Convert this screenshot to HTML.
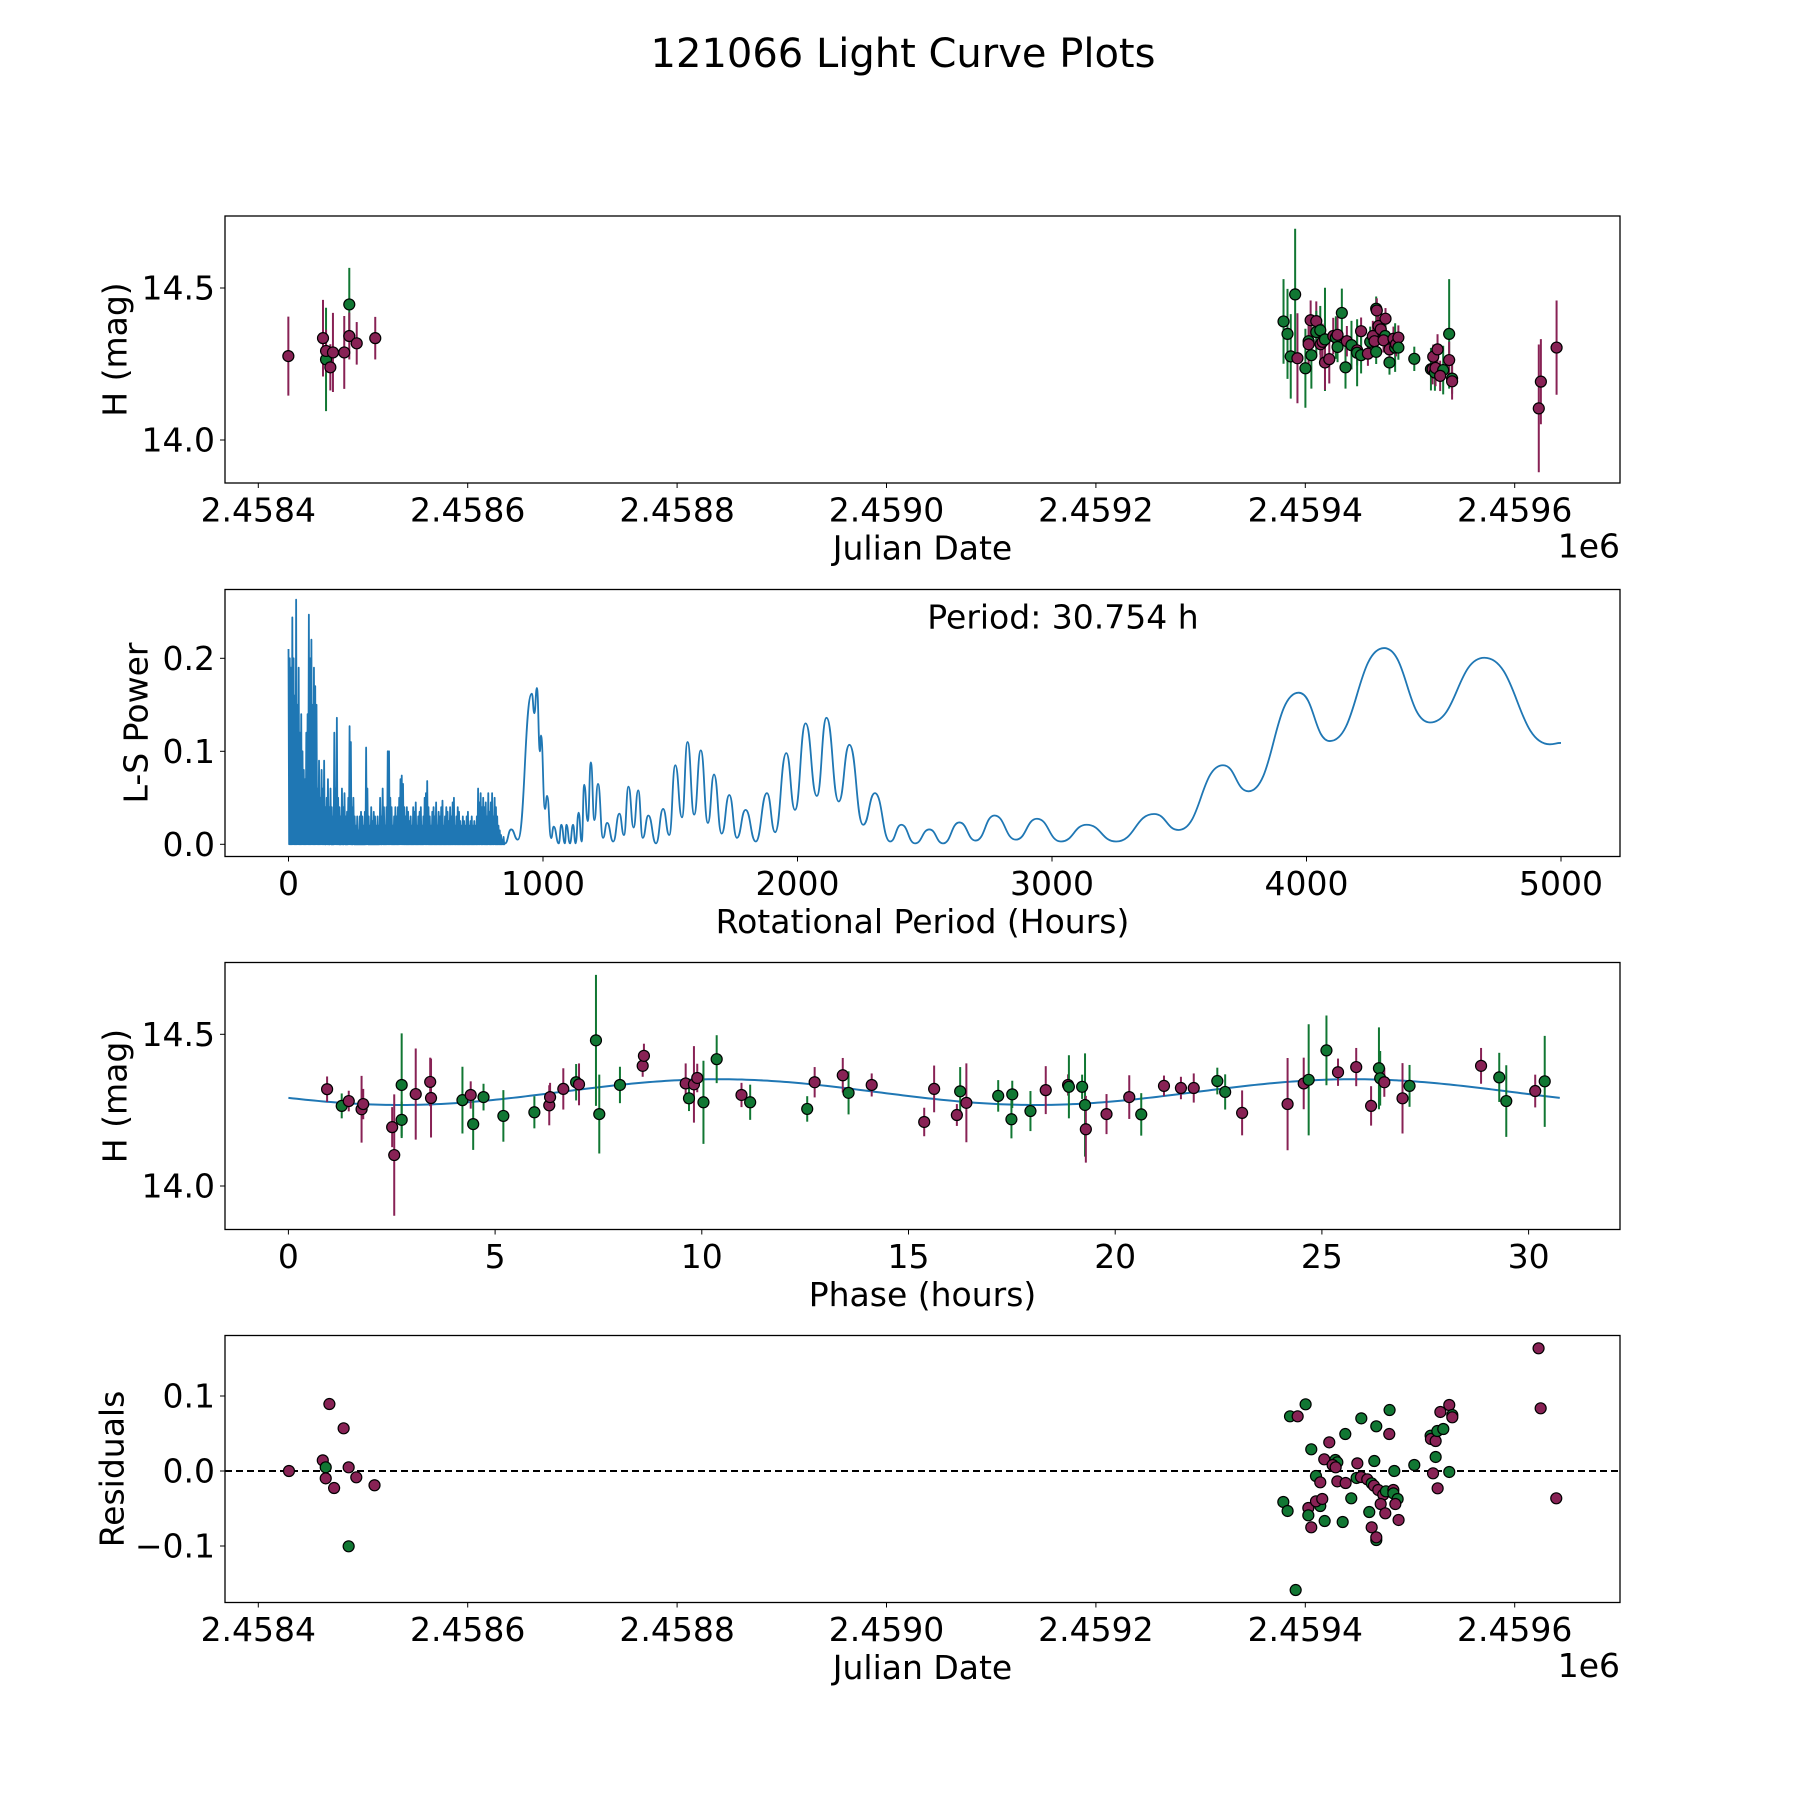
<!DOCTYPE html>
<html><head><meta charset="utf-8"><title>121066 Light Curve Plots</title>
<style>
html,body{margin:0;padding:0;background:#fff;}
svg{display:block;font-family:"DejaVu Sans","Liberation Sans",sans-serif;}
</style></head>
<body>
<svg id="fig" xmlns="http://www.w3.org/2000/svg" width="1800" height="1800" viewBox="0 0 1800 1800">
<rect width="1800" height="1800" fill="#fff"/>
<text x="903" y="54" text-anchor="middle" dominant-baseline="central" font-size="40">121066 Light Curve Plots</text>
</svg>
<script>
// ---------- Panel 1: light curve vs Julian date ----------
const lcJd = [28.7,61.8,64.7,64.7,68.8,71.3,82.1,86.9,86.9,94,111.7,
979.2,983,990.3,986.1,992.5,1000.1,1003.2,1003.2,1005.8,1005.1,1010.5,1010.5,1014.3,1014.6,1016.5,1018.8,1018.8,1022.9,1026.7,1029.2,1030.8,1030.8,1034.9,1038.4,1039.7,1044.1,1049.5,1049.5,1053.3,1053.3,1059.8,1062,1064.5,1066.1,1067.7,1067.7,1068.3,1069.9,1072.1,1076.6,1076.3,1074.7,1080.4,1080.4,1084.2,1085.8,1086.7,1088.9,1088.9,1104.1,1120,1121.6,1122.2,1123.8,1124.4,1126.3,1131.7,1128.8,1137.4,1137.4,1140.2,1140.2,1223,1225,1240];
const lcMag = [14.276,14.335,14.265,14.293,14.239,14.288,14.288,14.446,14.342,14.318,14.335,
14.39,14.349,14.479,14.275,14.269,14.236,14.325,14.315,14.279,14.394,14.391,14.355,14.361,14.315,14.323,14.331,14.255,14.266,14.342,14.337,14.346,14.306,14.418,14.239,14.325,14.312,14.295,14.287,14.358,14.279,14.284,14.323,14.342,14.325,14.29,14.432,14.426,14.375,14.364,14.399,14.342,14.328,14.255,14.298,14.333,14.304,14.315,14.337,14.304,14.267,14.233,14.233,14.274,14.222,14.237,14.298,14.23,14.211,14.349,14.263,14.202,14.193,14.104,14.192,14.304];
const lcErr = [0.13,0.126,0.17,0.07,0.076,0.13,0.12,0.12,0.077,0.07,0.07,
0.139,0.148,0.216,0.139,0.148,0.13,0.072,0.08,0.11,0.065,0.065,0.07,0.08,0.06,0.06,0.17,0.09,0.08,0.06,0.07,0.06,0.05,0.08,0.07,0.05,0.08,0.05,0.11,0.045,0.06,0.04,0.05,0.05,0.05,0.04,0.04,0.04,0.04,0.04,0.035,0.04,0.04,0.04,0.05,0.04,0.08,0.04,0.04,0.04,0.04,0.07,0.05,0.04,0.06,0.06,0.05,0.08,0.05,0.18,0.06,0.05,0.06,0.21,0.14,0.155];
const lcBandList = ['m','m','g','m','m','m','m','g','m','m','m',
'g','g','g','g','m','g','g','m','g','m','m','g','g','m','m','g','m','m','m','g','m','g','g','g','m','g','m','g','m','g','m','g','m','m','g','g','m','m','m','m','g','m','g','m','m','g','m','m','g','g','g','m','m','g','m','m','g','m','g','m','g','m','m','m','m'];

// ---------- Panel 2: periodogram ----------
const noisePeriods = [0,5,10,15,20,25,30,35,40,45,50,55,60,65,70,75,80,85,90,95,100,105,110,115,120,125,130,135,140,145,150,155,160,165,170,175,180,185,190,195,200,205,210,215,220,225,230,235,240,245,250,255,260,265,270,275,280,285,290,295,300,305,310,315,320,325,330,335,340,345,350,355,360,365,370,375,380,385,390,395,400,405,410,415,420,425,430,435,440,445,450,455,460,465,470,475,480,485,490,495,500,505,510,515,520,525,530,535,540,545,550,555,560,565,570,575,580,585,590,595,600,605,610,615,620,625,630,635,640,645,650,655,660,665,670,675,680,685,690,695,700,705,710,715,720,725,730,735,740,745,750,755,760,765,770,775,780,785,790,795,800,805,810,815,820,825,830,835,840,845];
const noisePower = [0.21,0.2,0.19,0.244,0.2,0.16,0.263,0.15,0.19,0.12,0.14,0.1,0.08,0.07,0.12,0.14,0.247,0.2,0.22,0.15,0.19,0.17,0.15,0.06,0.09,0.05,0.08,0.06,0.09,0.04,0.05,0.07,0.04,0.06,0.04,0.03,0.12,0.06,0.136,0.05,0.04,0.03,0.06,0.04,0.055,0.03,0.035,0.05,0.127,0.11,0.04,0.05,0.03,0.02,0.03,0.015,0.03,0.035,0.03,0.02,0.035,0.104,0.06,0.03,0.02,0.04,0.025,0.035,0.03,0.02,0.03,0.02,0.05,0.03,0.06,0.04,0.02,0.04,0.1,0.1,0.05,0.04,0.02,0.03,0.04,0.03,0.04,0.05,0.07,0.074,0.065,0.04,0.03,0.04,0.035,0.025,0.03,0.02,0.04,0.035,0.045,0.02,0.03,0.035,0.04,0.02,0.03,0.05,0.055,0.068,0.04,0.03,0.02,0.035,0.04,0.03,0.045,0.02,0.035,0.03,0.04,0.047,0.02,0.03,0.04,0.035,0.025,0.04,0.03,0.045,0.05,0.02,0.03,0.04,0.035,0.025,0.02,0.03,0.025,0.02,0.03,0.035,0.02,0.025,0.03,0.02,0.025,0.02,0.03,0.06,0.045,0.055,0.04,0.05,0.04,0.045,0.03,0.055,0.035,0.045,0.055,0.03,0.05,0.04,0.03,0.02,0.015,0.01,0.005,0.008];
const smoothPeriods = [851,875,901,956,966,976,988,992,1008,1016,1032,1042,1062,1072,1086,1092,1106,1118,1128,1140,1152,1162,1176,1188,1202,1216,1236,1252,1276,1300,1318,1336,1356,1374,1392,1414,1444,1472,1496,1520,1546,1568,1594,1620,1648,1672,1702,1732,1762,1796,1836,1880,1912,1956,1990,2032,2076,2114,2162,2204,2258,2304,2364,2408,2462,2518,2572,2636,2700,2774,2858,2941,3035,3136,3252,3401,3498,3672,3772,3969,4092,4305,4485,4699,4956,5000];
const smoothPower = [0.001,0.016,0.005,0.162,0.141,0.168,0.1,0.117,0.038,0.052,0.0066,0.019,0.001,0.021,0.001,0.021,0.001,0.021,0.001,0.034,0.003,0.064,0.025,0.088,0.026,0.065,0.007,0.023,0.003,0.033,0.01,0.062,0.018,0.058,0.007,0.031,0.001,0.038,0.01,0.085,0.029,0.11,0.032,0.101,0.023,0.075,0.0115,0.053,0.007,0.037,0.003,0.055,0.013,0.098,0.037,0.13,0.052,0.136,0.046,0.107,0.021,0.055,0.003,0.021,0.001,0.016,0.001,0.0235,0.004,0.031,0.005,0.0275,0.003,0.021,0.003,0.0326,0.0154,0.085,0.057,0.163,0.111,0.211,0.131,0.2006,0.1075,0.109];
const bestPeriodLabel = ["Period: 30.754 h"];

// ---------- Panel 3: phase folded ----------
const phPhase = [0.936,1.29,1.46,1.77,1.81,2.51,2.56,2.74,2.74,3.08,3.43,3.45,4.21,4.41,4.47,4.72,5.2,5.95,6.31,6.33,6.65,6.96,7.03,7.44,7.52,8.02,8.57,8.6,9.61,9.69,9.81,9.89,10.04,10.36,10.96,11.17,12.55,12.73,13.41,13.55,14.11,
15.38,15.62,16.17,16.25,16.4,17.17,17.49,17.51,17.95,18.32,18.86,18.88,19.2,19.27,19.29,19.79,20.34,20.63,21.18,21.59,21.9,22.47,22.66,23.07,24.17,24.56,24.68,25.11,25.39,25.83,26.19,26.38,26.41,26.51,26.95,27.12,28.85,29.29,29.46,30.16,30.39];
const phMag = [14.319,14.264,14.28,14.253,14.27,14.194,14.102,14.333,14.218,14.303,14.343,14.29,14.283,14.3,14.204,14.293,14.231,14.243,14.266,14.293,14.32,14.342,14.335,14.48,14.237,14.333,14.396,14.429,14.338,14.289,14.335,14.356,14.276,14.418,14.3,14.276,14.254,14.342,14.365,14.307,14.333,
14.211,14.32,14.234,14.312,14.274,14.297,14.22,14.302,14.247,14.316,14.333,14.327,14.327,14.267,14.187,14.237,14.293,14.236,14.33,14.323,14.323,14.346,14.31,14.241,14.27,14.338,14.35,14.447,14.375,14.392,14.264,14.388,14.355,14.342,14.289,14.33,14.396,14.358,14.28,14.313,14.345];
const phErr = [0.042,0.041,0.034,0.11,0.05,0.066,0.2,0.17,0.06,0.15,0.08,0.13,0.11,0.045,0.085,0.044,0.085,0.053,0.066,0.047,0.068,0.06,0.069,0.216,0.13,0.06,0.036,0.04,0.066,0.042,0.126,0.047,0.137,0.079,0.04,0.058,0.042,0.05,0.057,0.071,0.038,
0.047,0.077,0.036,0.08,0.13,0.052,0.063,0.045,0.066,0.079,0.035,0.104,0.04,0.17,0.11,0.066,0.072,0.07,0.034,0.037,0.048,0.044,0.058,0.074,0.152,0.085,0.183,0.115,0.045,0.063,0.065,0.135,0.09,0.048,0.116,0.069,0.059,0.081,0.118,0.054,0.15];
const phBand = ['m','g','m','m','m','m','m','g','g','m','m','m','g','m','g','g','g','g','m','m','m','g','m','g','g','g','m','m','m','g','m','m','g','g','m','g','g','m','m','g','m',
'm','m','m','g','m','g','g','g','g','m','m','g','g','g','m','m','m','g','m','m','m','g','g','m','m','m','g','g','m','m','m','g','g','m','m','g','m','g','g','m','g'];
const fitPeriod = [30.754];
const fitMean = [14.3095];
const fitAmp = [0.0425];
const fitPeak = [10.4];

// ---------- Panel 4: residuals ----------
const resJd = [29.3,61.6,64.4,64.4,67.9,72.4,81.5,86.3,86.3,93.6,111,
985.4,992.7,1000.3,1005.7,1022.9,1018.1,1028.7,1030.6,1026.1,1029,1010.2,1014.3,979,983.1,1002.9,1002.9,1014.3,1010.2,1016.2,1005.7,1018.5,1030.6,1038.5,1038.2,1035.7,1043.9,1053.5,1049.7,1049,1053.2,1059.2,1063.4,1065.6,1069.7,1067.8,1065.9,1074.5,1077,1072,1061.1,1063.4,1067.8,1067.8,1076.4,1080.5,1080.2,1085,1084.1,1084.1,1088.2,1086,1089.1,1104.1,1119.7,1120,1124.5,1126.1,1131.8,1129,1137.5,1140.4,1140.4,1124.5,1122,1126.4,1137.5,990.8,1222.8,1224.8,1239.7];
const resVal = [0,0.0142,0.0049,-0.0098,0.0893,-0.0227,0.0569,-0.1004,0.0049,-0.0084,-0.019,
0.0729,0.0729,0.0889,0.0289,0.0382,0.0156,0.0147,0.0116,0.008,0.0049,-0.0067,-0.0151,-0.0413,-0.0533,-0.0493,-0.0591,-0.0467,-0.0404,-0.0373,-0.0751,-0.0667,-0.0138,-0.016,0.0493,-0.068,-0.0364,0.0702,0.0102,-0.0093,-0.008,-0.0111,-0.0164,-0.0196,-0.0253,0.0596,0.0133,-0.0316,-0.0271,-0.044,-0.0547,-0.0751,-0.092,-0.0884,-0.0564,0.0813,0.0493,0,-0.0253,-0.0298,-0.0373,-0.044,-0.0653,0.008,0.0471,0.0427,0.04,0.0533,0.056,0.0787,0.088,0.0747,0.0716,0.0187,-0.0031,-0.0231,-0.0013,-0.1587,0.1636,0.0836,-0.0364];
const resBand = ['m','m','g','m','m','m','m','g','m','m','m',
'g','m','g','g','m','m','g','g','m','m','g','m','g','g','m','g','g','m','m','m','g','m','m','g','g','g','g','m','g','m','m','g','m','m','g','g','m','g','m','g','m','g','m','m','g','m','g','m','g','g','m','m','g','g','m','m','g','g','m','m','g','m','g','m','m','g','g','m','m','m'];

const jdTicks = [0,200,400,600,800,1000,1200];
const jdTickLabels = ["2.4584","2.4586","2.4588","2.4590","2.4592","2.4594","2.4596"];
const magTicks = [14.0,14.5];
const magTickLabels = ["14.0","14.5"];
const perTicks = [0,1000,2000,3000,4000,5000];
const perTickLabels = ["0","1000","2000","3000","4000","5000"];
const powTicks = [0,0.1,0.2];
const powTickLabels = ["0.0","0.1","0.2"];
const phTicks = [0,5,10,15,20,25,30];
const phTickLabels = ["0","5","10","15","20","25","30"];
const resTicks = [-0.1,0,0.1];
const resTickLabels = ["\u22120.1","0.0","0.1"];

const NS = "http://www.w3.org/2000/svg";
const svg = document.getElementById('fig');
const COL = {g:'#117733', m:'#882255'};
const FS = 33;
function mk(tag, attrs, parent){
  const e = document.createElementNS(NS, tag);
  for (const k in attrs) e.setAttribute(k, attrs[k]);
  (parent||svg).appendChild(e);
  return e;
}
function lin(d0,d1,r0,r1){ return v => r0 + (v-d0)*(r1-r0)/(d1-d0); }

const L = 225, R = 1620;
const panels = [
  {top:216, bot:483, name:'lightcurve'},
  {top:589.5, bot:856.5, name:'periodogram'},
  {top:962.5, bot:1229.5, name:'phase'},
  {top:1335.5, bot:1602.5, name:'residuals'}
];
const xJd = lin(0,1000,258.3,258.3+1047);
const y1 = lin(14.5,14.0,288,440);
const xPer = lin(0,1000,288.5,288.5+254.5);
const yPow = lin(0,0.1,844.3,751.3);
const xPh = lin(0,5,288.4,288.4+206.7);
const y3 = lin(14.5,14.0,1034.3,1186);
const y4 = lin(0,0.1,1471,1396);

function axes(p, xs, xt, xl, ys, yt, yl, xlabel, ylabel, ylabX, offsetText){
  const g = mk('g', {});
  
  
  xt.forEach((t,i)=>{
    const x = xs(t);
    const tk = mk('line',{x1:x,x2:x,y1:p.bot,y2:p.bot+5,stroke:'#000','stroke-width':1},g);
    
    
    const tx = mk('text',{x:x,y:p.bot+27,'text-anchor':'middle','dominant-baseline':'central','font-size':FS},g);
    tx.textContent = xl[i];
    
    
  });
  yt.forEach((t,i)=>{
    const y = ys(t);
    const tk = mk('line',{x1:L-5,x2:L,y1:y,y2:y,stroke:'#000','stroke-width':1},g);
    
    
    const tx = mk('text',{x:L-10,y:y,'text-anchor':'end','dominant-baseline':'central','font-size':FS},g);
    tx.textContent = yl[i];
    
    
  });
  const xlab = mk('text',{x:(L+R)/2,y:p.bot+65,'text-anchor':'middle','dominant-baseline':'central','font-size':FS},g);
  xlab.textContent = xlabel;
  
  
  const cy = (p.top+p.bot)/2;
  const ylab = mk('text',{x:ylabX,y:cy,'text-anchor':'middle','dominant-baseline':'central','font-size':FS,transform:'rotate(-90 '+ylabX+' '+cy+')'},g);
  ylab.textContent = ylabel;
  
  
  if (offsetText){
    const o = mk('text',{x:R,y:p.bot+63,'text-anchor':'end','dominant-baseline':'central','font-size':FS},g);
    o.textContent = offsetText;
    
    
  }
}
function frame(p){
  const f = mk('rect',{x:L,y:p.top,width:R-L,height:p.bot-p.top,fill:'none',stroke:'#000','stroke-width':1.3});
  
  
}
function clipFor(p){
  const c = mk('clipPath',{id:'clip-'+p.name});
  mk('rect',{x:L,y:p.top,width:R-L,height:p.bot-p.top},c);
  const g = mk('g',{'clip-path':'url(#clip-'+p.name+')'});
  
  
  return g;
}
function errPoints(g, xs, ys, xv, yv, ev, bands, pname){
  xv.forEach((v,i)=>{
    const x = xs(v);
    const c = COL[bands[i]];
    const b = mk('line',{x1:x,x2:x,y1:ys(yv[i]+ev[i]),y2:ys(yv[i]-ev[i]),stroke:c,'stroke-width':2},g);
    
    
  });
  xv.forEach((v,i)=>{
    const pt = mk('circle',{cx:xs(v),cy:ys(yv[i]),r:5.5,fill:COL[bands[i]],stroke:'#000','stroke-width':1.2},g);
    
    
  });
}

// Panel 1
{
  const p = panels[0];
  const g = clipFor(p);
  errPoints(g, xJd, y1, lcJd, lcMag, lcErr, lcBandList, 'lightcurve');
  frame(p);
  axes(p, xJd, jdTicks, jdTickLabels, y1, magTicks, magTickLabels, 'Julian Date', 'H (mag)', 115, '1e6');
}
// Panel 2
{
  const p = panels[1];
  const g = clipFor(p);
  let d = '';
  noisePeriods.forEach((per,i)=>{
    const x = xPer(per);
    d += (i===0?'M':'L') + x.toFixed(2) + ',' + yPow(noisePower[i]).toFixed(2);
    const xn = xPer(per + 2.5);
    d += 'L' + xn.toFixed(2) + ',' + yPow(0).toFixed(2);
  });
  let px = xPer(smoothPeriods[0]), py = yPow(smoothPower[0]);
  d += 'L' + px.toFixed(2) + ',' + py.toFixed(2);
  for (let i=1;i<smoothPeriods.length;i++){
    const x = xPer(smoothPeriods[i]), y = yPow(smoothPower[i]);
    const mx = (px + x)/2;
    d += 'C' + mx.toFixed(2) + ',' + py.toFixed(2) + ' ' + mx.toFixed(2) + ',' + y.toFixed(2) + ' ' + x.toFixed(2) + ',' + y.toFixed(2);
    px = x; py = y;
  }
  const line = mk('path',{d:d,fill:'none',stroke:'#1f77b4','stroke-width':1.8,'stroke-linejoin':'round'},g);
  
  
  const t = mk('text',{x:1063,y:617,'text-anchor':'middle','dominant-baseline':'central','font-size':FS});
  t.textContent = bestPeriodLabel[0];
  
  
  frame(p);
  axes(p, xPer, perTicks, perTickLabels, yPow, powTicks, powTickLabels, 'Rotational Period (Hours)', 'L-S Power', 136, null);
}
// Panel 3
{
  const p = panels[2];
  const g = clipFor(p);
  let d = '';
  const N = 300;
  for (let i=0;i<=N;i++){
    const ph = fitPeriod[0]*i/N;
    const m = fitMean[0] + fitAmp[0]*Math.cos(2*Math.PI*(ph-fitPeak[0])/(fitPeriod[0]/2));
    d += (i===0?'M':'L') + xPh(ph).toFixed(2) + ',' + y3(m).toFixed(2);
  }
  const fit = mk('path',{d:d,fill:'none',stroke:'#1f77b4','stroke-width':2},g);
  
  
  errPoints(g, xPh, y3, phPhase, phMag, phErr, phBand, 'phase');
  frame(p);
  axes(p, xPh, phTicks, phTickLabels, y3, magTicks, magTickLabels, 'Phase (hours)', 'H (mag)', 115, null);
}
// Panel 4
{
  const p = panels[3];
  const g = clipFor(p);
  const z = mk('line',{x1:L,x2:R,y1:y4(0),y2:y4(0),stroke:'#000','stroke-width':2,'stroke-dasharray':'7,4'},g);
  
  
  resJd.forEach((v,i)=>{
    const pt = mk('circle',{cx:xJd(v),cy:y4(resVal[i]),r:5.5,fill:COL[resBand[i]],stroke:'#000','stroke-width':1.2},g);
    
    
  });
  frame(p);
  axes(p, xJd, jdTicks, jdTickLabels, y4, resTicks, resTickLabels, 'Julian Date', 'Residuals', 112, '1e6');
}
</script>
</body></html>
